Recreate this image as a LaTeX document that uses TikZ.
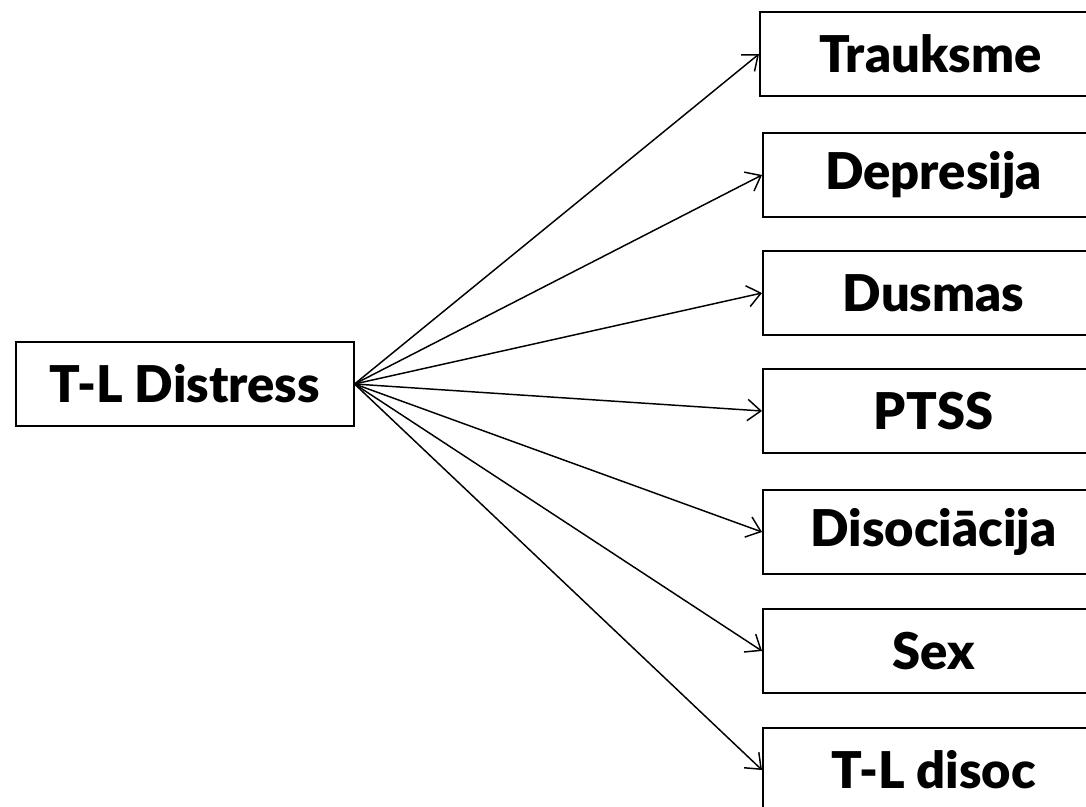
\documentclass[tikz,border=0pt]{standalone}
\usepackage{fontspec}
\setmainfont{Lato}[BoldFont={Lato Black}]
\usepackage{tikz}
\usetikzlibrary{arrows.meta}

\begin{document}
\begin{tikzpicture}[x=0.75pt,y=-0.75pt,
	box/.style={rectangle, draw=black, line width=1.3pt, minimum width=256pt,
		minimum height=63pt, inner sep=0pt, font=\fontsize{38}{46}\selectfont\bfseries},
	link/.style={line width=1.1pt,-{Straight Barb[length=10pt,width=16pt,line width=1.1pt]}}]
				\useasboundingbox (0,0) rectangle (1086,807);
				\node[box, minimum width=253pt] (dist) at(185,384){T-L Distress};
				\node[box, anchor=west] (trauk) at(759,54){Trauksme};
				\node[box, anchor=west] (depr) at(762,175){Depresija};
				\node[box, anchor=west] (dusm) at(762,293){Dusmas};
				\node[box, anchor=west] (ptss) at(762,411){PTSS};
				\node[box, anchor=west] (disoc) at(762,532){Disociācija};
				\node[box, anchor=west] (sex) at(762,651){Sex};
				\node[box, anchor=west] (tldis) at(762,770){T-L disoc};
				\draw[link] (dist.east) -- (trauk.west);
				\draw[link] (dist.east) -- (depr.west);
				\draw[link] (dist.east) -- (dusm.west);
				\draw[link] (dist.east) -- (ptss.west);
				\draw[link] (dist.east) -- (disoc.west);
				\draw[link] (dist.east) -- (sex.west);
				\draw[link] (dist.east) -- (tldis.west);
			\end{tikzpicture}
\end{document}
